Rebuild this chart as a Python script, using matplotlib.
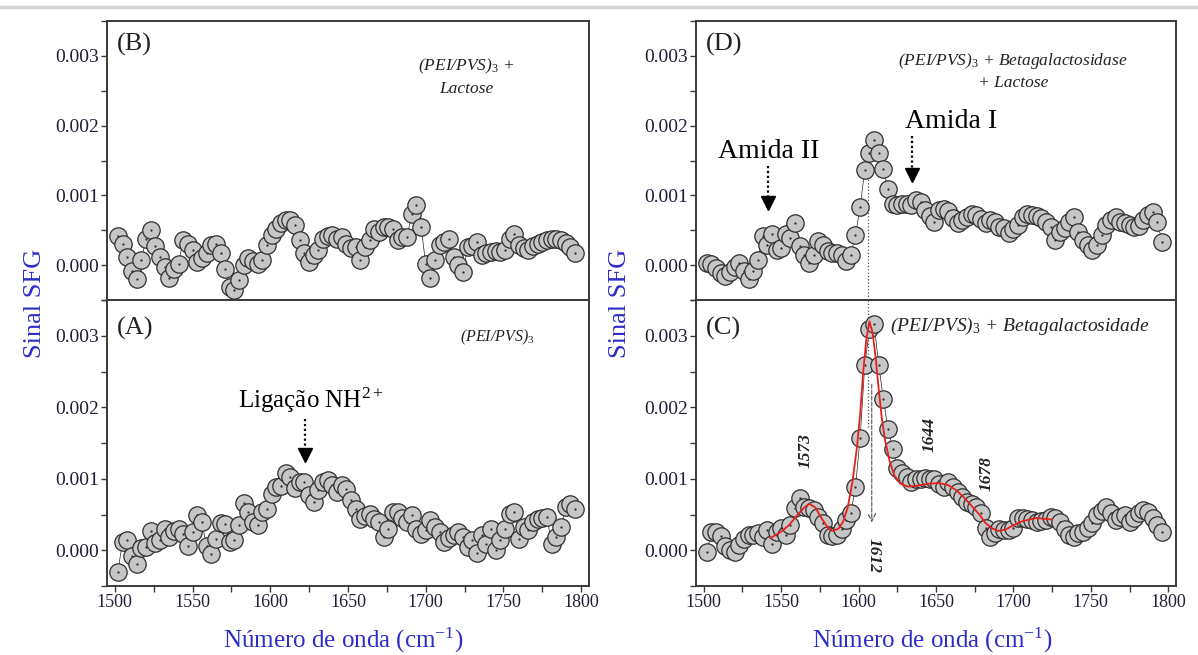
import numpy as np
import matplotlib.pyplot as plt
from matplotlib.path import Path
from matplotlib.lines import Line2D
from matplotlib.ticker import MultipleLocator, FixedLocator

plt.rcParams["font.family"] = ["Liberation Serif", "DejaVu Serif"]
plt.rcParams["mathtext.fontset"] = "custom"
plt.rcParams["mathtext.rm"] = "Liberation Serif"
plt.rcParams["mathtext.it"] = "Liberation Serif:italic"
plt.rcParams["mathtext.bf"] = "Liberation Serif:bold"

# SFG signal, in units of 1e-3 (one point every ~3 cm-1 from 1502 to 1796)
SCALE = 1e-3
SIG_B = [0.42, 0.30, 0.12, -0.08, -0.20, 0.07, 0.37, 0.50, 0.27, 0.12,
         -0.02, -0.19, -0.05, 0.02, 0.36, 0.30, 0.22, 0.05, 0.10, 0.17,
         0.29, 0.31, 0.17, -0.05, -0.31, -0.36, -0.21, 0.00, 0.10, 0.06,
         0.02, 0.07, 0.29, 0.43, 0.52, 0.60, 0.64, 0.64, 0.57, 0.36,
         0.17, 0.05, 0.14, 0.21, 0.38, 0.42, 0.43, 0.38, 0.40, 0.30,
         0.24, 0.26, 0.07, 0.26, 0.36, 0.52, 0.48, 0.55, 0.55, 0.52,
         0.36, 0.40, 0.40, 0.74, 0.86, 0.55, 0.01, -0.19, 0.07, 0.29,
         0.33, 0.38, 0.12, 0.00, -0.10, 0.26, 0.28, 0.33, 0.14, 0.17,
         0.19, 0.20, 0.19, 0.22, 0.38, 0.45, 0.29, 0.24, 0.21, 0.28,
         0.31, 0.33, 0.36, 0.37, 0.38, 0.36, 0.32, 0.26, 0.17]
SIG_A = [-0.30, 0.12, 0.15, -0.08, -0.19, 0.03, 0.05, 0.27, 0.10, 0.14,
         0.30, 0.19, 0.27, 0.30, 0.23, 0.06, 0.26, 0.50, 0.39, 0.06,
         -0.05, 0.16, 0.38, 0.37, 0.12, 0.14, 0.35, 0.66, 0.53, 0.40,
         0.36, 0.53, 0.58, 0.79, 0.89, 0.90, 1.08, 1.03, 0.87, 0.95,
         0.96, 0.77, 0.67, 0.84, 0.96, 0.98, 0.91, 0.81, 0.91, 0.85,
         0.70, 0.58, 0.44, 0.48, 0.51, 0.44, 0.40, 0.19, 0.30, 0.53,
         0.53, 0.45, 0.39, 0.49, 0.30, 0.23, 0.28, 0.42, 0.33, 0.25,
         0.12, 0.17, 0.22, 0.25, 0.19, 0.05, 0.14, -0.04, 0.21, 0.09,
         0.30, 0.00, 0.14, 0.30, 0.51, 0.53, 0.16, 0.32, 0.28, 0.39,
         0.44, 0.45, 0.46, 0.09, 0.19, 0.33, 0.60, 0.65, 0.58]
SIG_D = [0.03, 0.02, -0.04, -0.11, -0.16, -0.10, -0.02, 0.03, -0.08, -0.20,
         -0.08, 0.07, 0.42, 0.29, 0.44, 0.22, 0.25, 0.44, 0.39, 0.60,
         0.27, 0.15, 0.03, 0.15, 0.34, 0.29, 0.20, 0.17, 0.17, 0.15,
         0.06, 0.15, 0.43, 0.83, 1.37, 1.61, 1.80, 1.61, 1.38, 1.09,
         0.87, 0.86, 0.88, 0.88, 0.86, 0.93, 0.90, 0.79, 0.70, 0.62,
         0.79, 0.81, 0.77, 0.67, 0.60, 0.65, 0.69, 0.74, 0.72, 0.66,
         0.60, 0.65, 0.62, 0.55, 0.53, 0.46, 0.52, 0.58, 0.69, 0.74,
         0.72, 0.70, 0.67, 0.62, 0.55, 0.36, 0.48, 0.53, 0.62, 0.69,
         0.48, 0.36, 0.29, 0.22, 0.29, 0.43, 0.58, 0.65, 0.69, 0.62,
         0.60, 0.58, 0.55, 0.56, 0.65, 0.72, 0.76, 0.62, 0.33]
SIG_C = [-0.02, 0.25, 0.26, 0.20, 0.06, 0.00, -0.02, 0.07, 0.16, 0.21,
         0.22, 0.24, 0.19, 0.28, 0.09, 0.26, 0.31, 0.21, 0.35, 0.59,
         0.73, 0.60, 0.59, 0.56, 0.47, 0.38, 0.22, 0.20, 0.21, 0.30,
         0.42, 0.52, 0.89, 1.57, 2.59, 3.09, 3.17, 2.59, 2.12, 1.69,
         1.42, 1.15, 1.08, 1.03, 0.96, 0.99, 0.99, 1.01, 1.00, 0.99,
         0.92, 0.89, 0.96, 0.88, 0.82, 0.75, 0.68, 0.65, 0.60, 0.52,
         0.31, 0.19, 0.24, 0.30, 0.28, 0.28, 0.31, 0.45, 0.45, 0.44,
         0.42, 0.40, 0.41, 0.42, 0.47, 0.45, 0.40, 0.30, 0.21, 0.19,
         0.24, 0.26, 0.31, 0.38, 0.49, 0.55, 0.61, 0.52, 0.42, 0.46,
         0.49, 0.40, 0.45, 0.52, 0.56, 0.54, 0.45, 0.35, 0.26]

# red fitted curve of panel C
FIT_X = [1543, 1550, 1555, 1560, 1565, 1568, 1572, 1576, 1580, 1583,
         1587, 1590, 1593, 1596, 1599, 1601, 1603, 1605, 1607, 1609,
         1611, 1613, 1615, 1617, 1620, 1623, 1627, 1632, 1637, 1645,
         1652, 1658, 1663, 1668, 1673, 1678, 1682, 1686, 1690, 1695,
         1700, 1705, 1710, 1715, 1720, 1725]
FIT_Y = [0.17, 0.26, 0.35, 0.48, 0.60, 0.65, 0.60, 0.45, 0.32, 0.27,
         0.30, 0.40, 0.60, 0.95, 1.45, 1.90, 2.50, 2.95, 3.20, 3.05,
         2.70, 2.25, 1.85, 1.55, 1.25, 1.05, 0.93, 0.89, 0.90, 0.93,
         0.94, 0.91, 0.84, 0.74, 0.62, 0.50, 0.38, 0.31, 0.27, 0.29,
         0.35, 0.40, 0.43, 0.45, 0.44, 0.43]

W_START, W_END = 1502, 1796
Y_TICKS = [0.0, 0.001, 0.002, 0.003]
Y_TICK_LABELS = ["0.000", "0.001", "0.002", "0.003"]

BLUE = "#2d2dc8"
TICK_TXT = "#1e1e3a"
SPINE = "#3a3a3a"
DARK = "#222222"

W, H = 1198, 655
fig = plt.figure(figsize=(W / 100, H / 100), dpi=100)
fig.patch.set_facecolor("white")

# gray band at top of the original screenshot
fig.add_artist(Line2D([0, 1], [1 - 7 / H, 1 - 7 / H], color="#d4d4d4", lw=2.5))


def px_axes(x0, x1, y0, y1):
    return fig.add_axes([x0 / W, 1 - y1 / H, (x1 - x0) / W, (y1 - y0) / H])


def style(ax, bottom):
    ax.set_xlim(1495, 1805)
    ax.set_ylim(-0.0005, 0.0035)
    ax.yaxis.set_major_locator(FixedLocator(Y_TICKS))
    ax.set_yticklabels(Y_TICK_LABELS)
    ax.yaxis.set_minor_locator(MultipleLocator(0.0005))
    ax.xaxis.set_major_locator(MultipleLocator(50))
    ax.xaxis.set_minor_locator(MultipleLocator(25))
    ax.tick_params(which="both", direction="out", color=SPINE, labelcolor=TICK_TXT,
                   width=1.0, length=4, pad=2)
    ax.tick_params(axis="x", labelsize=13)
    ax.tick_params(axis="y", labelsize=14)
    if not bottom:
        ax.tick_params(axis="x", which="both", bottom=False, labelbottom=False)
    for s in ax.spines.values():
        s.set_color(SPINE)
        s.set_linewidth(1.4)


# circle marker with a small dot at its centre
_small = Path.unit_circle()
_small = Path(_small.vertices * 0.06, _small.codes)
DOT_CIRCLE = Path.make_compound_path(Path.unit_circle(), _small)


def spectrum(ax, sig):
    y = np.array(sig) * SCALE
    x = np.linspace(W_START, W_END, len(y))
    ax.plot(x, y, color="#222222", lw=0.5, marker=DOT_CIRCLE, ms=12.5,
            mfc="#c6c6c6", mec="#2e2e2e", mew=0.9, zorder=3)


def down_arrow(ax, x, y_top, y_tip, head=0.0002):
    ax.plot([x, x], [y_top, y_tip + head], color="black", ls=(0, (1, 1.2)), lw=1.6, zorder=5)
    ax.plot([x], [y_tip + head / 2], marker="v", ms=10, color="black", zorder=5)


axB = px_axes(107, 589, 21, 300)
axA = px_axes(107, 589, 300, 586)
axD = px_axes(696, 1176, 21, 300)
axC = px_axes(696, 1176, 300, 586)

for ax, sig, bottom in [(axB, SIG_B, False), (axA, SIG_A, True),
                        (axD, SIG_D, False), (axC, SIG_C, True)]:
    style(ax, bottom)
    spectrum(ax, sig)

# panel letters
for ax, lab, yy in [(axB, "(B)", 0.917), (axA, "(A)", 0.90),
                    (axD, "(D)", 0.917), (axC, "(C)", 0.90)]:
    ax.text(0.02, yy, lab, transform=ax.transAxes, ha="left", va="center",
            fontsize=19, color=DARK)

# sample names
axB.text(0.745, 0.80, "(PEI/PVS)$_3$ +\nLactose", transform=axB.transAxes, ha="center",
         va="center", fontsize=12.5, style="italic", color=DARK, linespacing=1.4)
axA.text(0.809, 0.87, "(PEI/PVS)$_3$", transform=axA.transAxes, ha="center",
         va="center", fontsize=11.5, style="italic", color=DARK)
axD.text(0.66, 0.82, "(PEI/PVS)$_3$ + Betagalactosidase\n+ Lactose", transform=axD.transAxes,
         ha="center", va="center", fontsize=12.5, style="italic", color=DARK, linespacing=1.3)
axC.text(0.675, 0.906, "(PEI/PVS)$_3$ + Betagalactosidade", transform=axC.transAxes,
         ha="center", va="center", fontsize=14, style="italic", color=DARK)

# panel A annotation
axA.text(1626, 0.00209, "Ligação NH$^{2+}$", ha="center", va="center", fontsize=18, color="black")
down_arrow(axA, 1622.4, 0.00184, 0.00123)

# panel D annotations
axD.text(1541.7, 0.00163, "Amida II", ha="center", va="center", fontsize=20, color="black")
down_arrow(axD, 1541.7, 0.00142, 0.00079)
axD.text(1660, 0.00206, "Amida I", ha="center", va="center", fontsize=20, color="black")
down_arrow(axD, 1634.2, 0.00185, 0.00119)
axD.plot([1606, 1606], [0.00128, -0.0005], color="#555555", ls=":", lw=0.9, zorder=2)

# panel C: fit curve and peak labels
axC.plot(FIT_X, np.array(FIT_Y) * SCALE, color="#e8201c", lw=1.3, zorder=4)
axC.plot([1606, 1606], [0.0035, 0.0017], color="#555555", ls=":", lw=0.9, zorder=2)
axC.annotate("", xy=(1608.5, 0.00035), xytext=(1608.5, 0.00236),
             arrowprops=dict(arrowstyle="->", color="#555555", lw=0.8, ls="--",
                             mutation_scale=14), zorder=5)
peak_style = dict(ha="center", va="center", fontsize=12.5, style="italic",
                  weight="bold", color=DARK)
axC.text(1566, 0.00140, "1573", rotation=90, **peak_style)
axC.text(1645.8, 0.00162, "1644", rotation=90, **peak_style)
axC.text(1682.4, 0.00107, "1678", rotation=90, **peak_style)
axC.text(1609.8, -0.00007, "1612", rotation=270, **peak_style)

# shared axis labels
for xc in (35, 620):
    fig.text(xc / W, 1 - 303 / H, "Sinal SFG", rotation=90, ha="center", va="center",
             fontsize=19, color=BLUE)
for xc in (343, 932):
    fig.text(xc / W, 1 - 640 / H, "Número de onda (cm$^{-1}$)", ha="center", va="center",
             fontsize=18, color=BLUE)

fig.savefig("out.png", dpi=100)
